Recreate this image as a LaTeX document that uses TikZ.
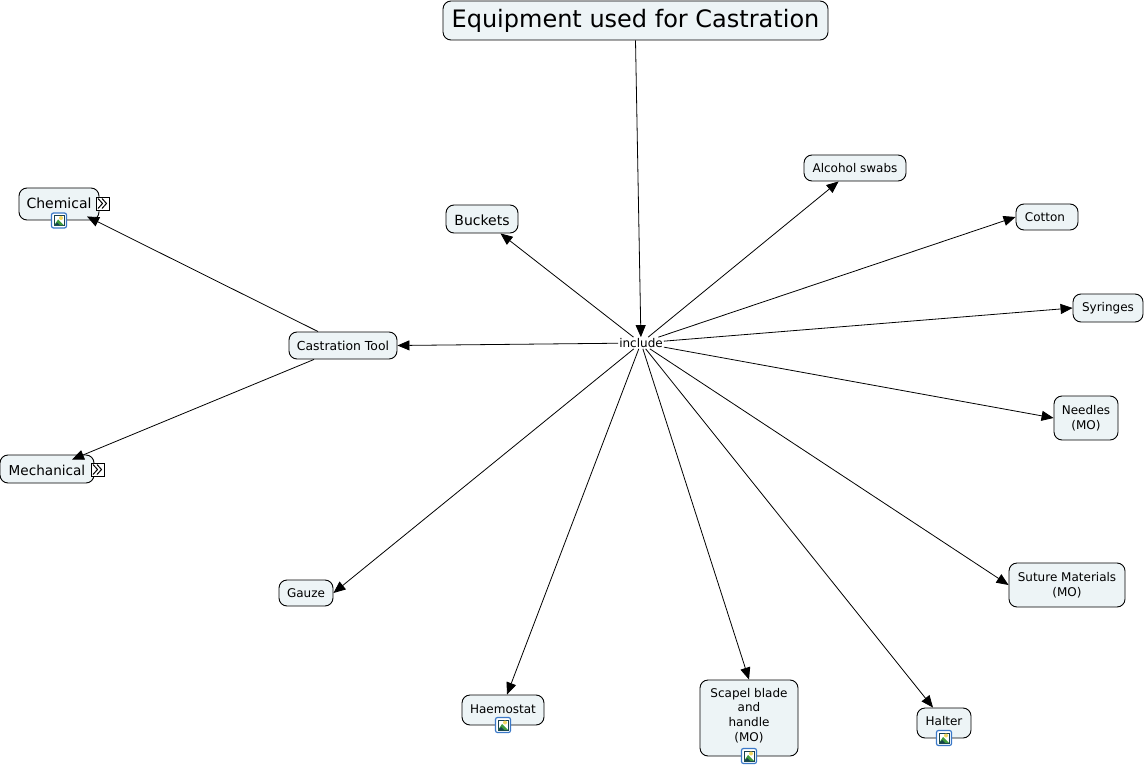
\documentclass[tikz,border=0pt]{standalone}
\usepackage{fontspec}
\setmainfont{DejaVu Sans}
\usetikzlibrary{arrows.meta, positioning, calc}
\definecolor{boxfill}{HTML}{EDF4F6}
\definecolor{iconblue}{HTML}{3A78C8}
\definecolor{iconsky}{HTML}{17414F}
\definecolor{iconhill}{HTML}{3E9A3C}
\definecolor{iconsun}{HTML}{F2D860}

\begin{document}
\begin{tikzpicture}[
    x=1pt, y=-1pt,
    concept/.style={rectangle, rounded corners=8pt, draw=black, fill=boxfill, line width=0.9pt, align=center, inner sep=0pt, font=\fontsize{12}{14.6}\selectfont},
    linker/.style={rectangle, fill=white, inner sep=1pt, font=\fontsize{12}{14}\selectfont},
    link/.style={-{Triangle[length=12pt, width=10pt]}, line width=0.8pt},
    imgicon/.pic={
        \draw[iconblue, fill=white, rounded corners=2pt, line width=1.2pt] (-7.5,-7.5) rectangle (7.5,7.5);
        \draw[iconsky, fill=white, line width=0.8pt] (-5,-5) rectangle (5,5);
        \fill[iconsun] (2,-2.5) circle (2pt);
        \fill[iconhill] (-5,5) -- (-1,-1) -- (5,5) -- cycle;
        \fill[iconsky] (-5,5) -- (-2,2) -- (1,5) -- cycle;
    },
    expandicon/.pic={
        \draw[black, fill=white, line width=0.8pt] (-6.5,-6.5) rectangle (6.5,6.5);
        \draw[black, line width=1pt] (-4.5,-5) -- (0,0) -- (-4.5,5) (-0.5,-5) -- (4,0) -- (-0.5,5);
    }]
\useasboundingbox (0,0) rectangle (1145,767);
\node[concept, minimum width=385pt, minimum height=39pt, font=\fontsize{24}{28}\selectfont] (title) at (635.5,20.5) {Equipment used for Castration};
\node[linker] (inc) at (641,343) {include};
\node[concept, minimum width=108pt, minimum height=27pt, font=\fontsize{12.4}{14.6}\selectfont, text height=10.6pt] (tool) at (343,345.5) {Castration Tool};
\node[concept, minimum width=80pt, minimum height=32pt, font=\fontsize{14}{16}\selectfont, text depth=2pt] (chem) at (59,204) {Chemical};
\node[concept, minimum width=94pt, minimum height=28pt, font=\fontsize{13.6}{16}\selectfont, text height=12.4pt] (mech) at (47,469) {Mechanical};
\node[concept, minimum width=72pt, minimum height=28pt, font=\fontsize{14}{16}\selectfont, text height=12.6pt] (buck) at (482,219) {Buckets};
\node[concept, minimum width=102pt, minimum height=26pt] (swab) at (855,168) {Alcohol swabs};
\node[concept, minimum width=62pt, minimum height=26pt] (cott) at (1047,217) {Cotton\hspace*{4pt}};
\node[concept, minimum width=70pt, minimum height=28pt] (syr) at (1108,308) {Syringes};
\node[concept, minimum width=64pt, minimum height=44pt] (need) at (1086,418) {Needles\\(MO)};
\node[concept, minimum width=116pt, minimum height=44pt] (sut) at (1067,585) {Suture Materials\\(MO)};
\node[concept, minimum width=54pt, minimum height=30pt, text depth=4pt] (halt) at (944,723) {Halter};
\node[concept, minimum width=98pt, minimum height=76pt, text depth=6.6pt] (scap) at (749,718) {Scapel blade\\and\\handle\\(MO)};
\node[concept, minimum width=82pt, minimum height=30pt, text depth=2pt] (haem) at (503,710) {Haemostat};
\node[concept, minimum width=54pt, minimum height=26pt] (gauz) at (306,593) {Gauze};
\draw[link] (title.south) -- (inc);
\draw[link] (inc) -- (tool.east);
\draw[link] (inc) -- (buck);
\draw[link] (inc) -- (swab);
\draw[link] (inc) -- (cott.west);
\draw[link] (inc) -- (syr.west);
\draw[link] (inc) -- (need.west);
\draw[link] (inc) -- (sut.west);
\draw[link] (inc) -- ([xshift=-11pt]halt.north);
\draw[link] (inc) -- (scap.north);
\draw[link] (inc) -- ([xshift=4pt]haem.north);
\draw[link] (inc) -- (gauz.east);
\draw[link] ([xshift=-25pt]tool.north) -- ([xshift=28pt,yshift=4pt]chem.south);
\draw[link] ([xshift=-29pt]tool.south) -- ([xshift=25pt,yshift=-5pt]mech.north);
\pic at (59,220.5) {imgicon};
\pic at (503,725) {imgicon};
\pic at (749,756) {imgicon};
\pic at (944,738) {imgicon};
\pic at (102.5,203.5) {expandicon};
\pic at (97.5,469.5) {expandicon};
\end{tikzpicture}
\end{document}
